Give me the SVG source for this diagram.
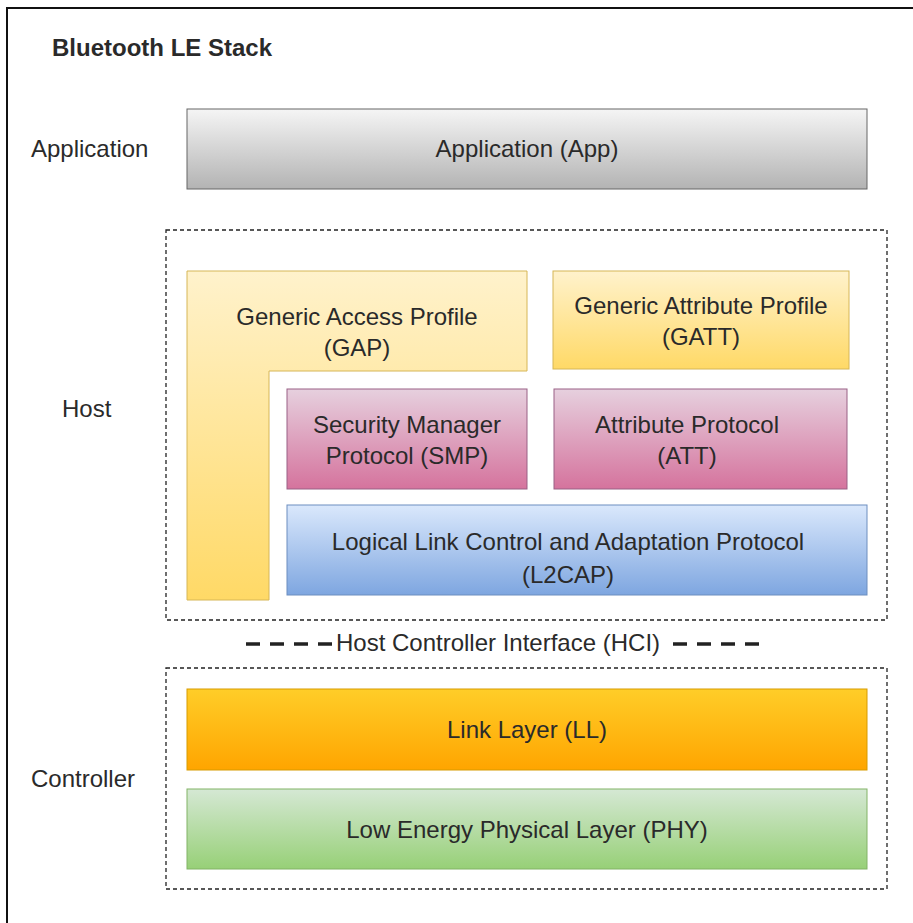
<svg xmlns="http://www.w3.org/2000/svg" width="913" height="923" viewBox="0 0 913 923">
<defs>
<linearGradient id="gGrey" x1="0" y1="0" x2="0" y2="1"><stop offset="0" stop-color="#f5f5f5"/><stop offset="1" stop-color="#b3b3b3"/></linearGradient>
<linearGradient id="gYellow" x1="0" y1="0" x2="0" y2="1"><stop offset="0" stop-color="#fff2cc"/><stop offset="1" stop-color="#ffd966"/></linearGradient>
<linearGradient id="gPink" x1="0" y1="0" x2="0" y2="1"><stop offset="0" stop-color="#e6d0de"/><stop offset="1" stop-color="#d5739d"/></linearGradient>
<linearGradient id="gBlue" x1="0" y1="0" x2="0" y2="1"><stop offset="0" stop-color="#dae8fc"/><stop offset="1" stop-color="#7ea6e0"/></linearGradient>
<linearGradient id="gOrange" x1="0" y1="0" x2="0" y2="1"><stop offset="0" stop-color="#ffcd28"/><stop offset="1" stop-color="#ffa500"/></linearGradient>
<linearGradient id="gGreen" x1="0" y1="0" x2="0" y2="1"><stop offset="0" stop-color="#d5e8d4"/><stop offset="1" stop-color="#97d077"/></linearGradient>
</defs>
<style>
text{font-family:"Liberation Sans",Arial,sans-serif;font-size:24px;fill:#2a2a2a;}
.c{text-anchor:middle;dominant-baseline:central;}
.l{dominant-baseline:central;}
.dash{fill:none;stroke:#222;stroke-width:1.3;stroke-dasharray:4 3;}
.hci{stroke:#222;stroke-width:3.5;stroke-dasharray:14 10;}
</style>
<rect x="0" y="0" width="913" height="923" fill="#fff"/>
<rect x="7" y="8" width="1000" height="1000" fill="none" stroke="#111" stroke-width="2"/>
<g id="title"><text x="52" y="47" class="l" style="font-weight:bold">Bluetooth LE Stack</text></g>
<g id="label-application"><text x="31" y="148" class="l">Application</text></g>
<g id="label-host"><text x="62" y="408" class="l">Host</text></g>
<g id="label-controller"><text x="31" y="778" class="l">Controller</text></g>
<g id="app"><rect x="187" y="109" width="680" height="80" fill="url(#gGrey)" stroke="#666666"/><text x="527" y="148" class="c">Application (App)</text></g>
<g id="host"><rect x="166" y="230" width="721" height="390" class="dash"/></g>
<g id="gap"><path d="M187,271 H527 V371 H269 V600 H187 Z" fill="url(#gYellow)" stroke="#d6b656"/><text x="357" y="316" class="c">Generic Access Profile</text><text x="357" y="347" class="c">(GAP)</text></g>
<g id="gatt"><rect x="553" y="271" width="296" height="98" fill="url(#gYellow)" stroke="#d6b656"/><text x="701" y="305" class="c">Generic Attribute Profile</text><text x="701" y="336" class="c">(GATT)</text></g>
<g id="smp"><rect x="287" y="389" width="240" height="100" fill="url(#gPink)" stroke="#996185"/><text x="407" y="424" class="c">Security Manager</text><text x="407" y="455" class="c">Protocol (SMP)</text></g>
<g id="att"><rect x="554" y="389" width="293" height="100" fill="url(#gPink)" stroke="#996185"/><text x="687" y="424" class="c">Attribute Protocol</text><text x="687" y="455" class="c">(ATT)</text></g>
<g id="l2cap"><rect x="287" y="505" width="580" height="90" fill="url(#gBlue)" stroke="#6c8ebf"/><text x="568" y="541" class="c">Logical Link Control and Adaptation Protocol</text><text x="568" y="574" class="c">(L2CAP)</text></g>
<g id="hci"><line x1="246" y1="644" x2="332" y2="644" class="hci"/><text x="498" y="642" class="c">Host Controller Interface (HCI)</text><line x1="673" y1="644" x2="759" y2="644" class="hci"/></g>
<g id="controller"><rect x="166" y="668" width="721" height="221" class="dash"/></g>
<g id="ll"><rect x="187" y="689" width="680" height="81" fill="url(#gOrange)" stroke="#d79b00"/><text x="527" y="729" class="c">Link Layer (LL)</text></g>
<g id="phy"><rect x="187" y="789" width="680" height="80" fill="url(#gGreen)" stroke="#82b366"/><text x="527" y="829" class="c">Low Energy Physical Layer (PHY)</text></g>
<g id="connectors"></g>
</svg>
